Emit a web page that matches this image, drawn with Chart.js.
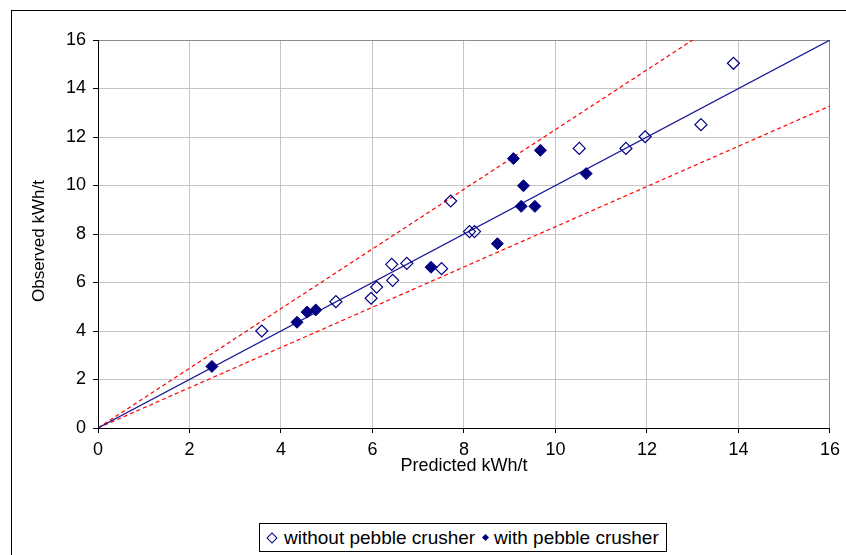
<!DOCTYPE html>
<html>
<head>
<meta charset="utf-8">
<script src="https://cdn.jsdelivr.net/npm/chart.js@4"></script>
<style>
  html, body { margin: 0; padding: 0; background: #fff; }
  #wrap { position: relative; width: 846px; height: 555px; overflow: hidden; }
  #frame { position: absolute; left: 11px; top: 10px; width: 900px; height: 600px; border: 1px solid #000; box-sizing: border-box; }
  canvas { position: absolute; left: 0; top: 0; }
  #legend { position: absolute; left: 259px; top: 523px; width: 408px; height: 29px; border: 1px solid #000; box-sizing: border-box;
    font-family: 'Liberation Sans', Arial, sans-serif; font-size: 19px; color: #000; white-space: nowrap; background: #fff; }
  #legend .t { position: absolute; top: 3px; line-height: 22px; }
  .mk { position: absolute; transform: rotate(45deg); box-sizing: border-box; }
  .mk.open { width: 8px; height: 8px; left: 8px; top: 10px; border: 1.3px solid #000080; }
  .mk.full { width: 5px; height: 5px; left: 223px; top: 11px; background: #000080; }
</style>
</head>
<body>
<div id="wrap">
  <div id="frame"></div>
  <canvas id="chart" width="846" height="555"></canvas>
  <div id="legend"><span class="mk open"></span><span class="t" style="left:24px">without pebble crusher</span><span class="mk full"></span><span class="t" style="left:234px">with pebble crusher</span></div>
</div>
<script>
(function(){
  // without pebble crusher
  const predictedWithout = [3.58, 5.20, 5.97, 6.09, 6.42, 6.44, 6.75, 7.51, 7.71, 8.12, 8.23, 10.52, 11.54, 11.96, 13.18, 13.89];
  const observedWithout  = [4.00, 5.21, 5.35, 5.81, 6.75, 6.09, 6.79, 6.57, 9.36, 8.10, 8.10, 11.53, 11.53, 12.01, 12.51, 15.04];
  // with pebble crusher
  const predictedWith = [2.49, 4.35, 4.57, 4.76, 7.28, 8.73, 9.08, 9.67, 9.30, 9.25, 9.55, 10.67];
  const observedWith  = [2.54, 4.36, 4.78, 4.87, 6.63, 7.60, 11.11, 11.45, 9.99, 9.14, 9.14, 10.49];
  // 1:1 line and the two limit lines
  const parityX = [0, 16];
  const parityY = [0, 16];
  const upperX = [0, 13];
  const upperY = [0, 16];
  const lowerX = [0, 16];
  const lowerY = [0, 13.28];
  const axisTicks = [0, 2, 4, 6, 8, 10, 12, 14, 16];

  const NAVY = '#000080';
  const FONT = "'Liberation Sans', Arial, sans-serif";

  function pts(xs, ys){
    return xs.map((x, i) => ({ x: x, y: ys[i] }));
  }

  Chart.defaults.font.family = FONT;
  Chart.defaults.color = '#000';

  const gridColor = (ctx) => ctx.tick && ctx.tick.value === 16 ? '#8c8c8c' : '#c4c4c4';

  new Chart(document.getElementById('chart'), {
    type: 'scatter',
    data: {
      datasets: [
        { label: 'without pebble crusher', data: pts(predictedWithout, observedWithout),
          pointStyle: 'rectRot', radius: 6, borderColor: NAVY, backgroundColor: 'rgba(255,255,255,0)', borderWidth: 1.2, showLine: false },
        { label: 'with pebble crusher', data: pts(predictedWith, observedWith),
          pointStyle: 'rectRot', radius: 6, borderColor: NAVY, backgroundColor: NAVY, borderWidth: 1, showLine: false },
        { label: 'parity', data: pts(parityX, parityY), showLine: true, pointRadius: 0,
          borderColor: '#1a1a99', borderWidth: 1.2 },
        { label: 'upper', data: pts(upperX, upperY), showLine: true, pointRadius: 0,
          borderColor: '#ff0000', borderWidth: 1.2, borderDash: [4, 3] },
        { label: 'lower', data: pts(lowerX, lowerY), showLine: true, pointRadius: 0,
          borderColor: '#ff0000', borderWidth: 1.2, borderDash: [4, 3] }
      ]
    },
    options: {
      responsive: false,
      devicePixelRatio: 1,
      animation: false,
      layout: { padding: { left: 29, top: 40, right: 16, bottom: 78 } },
      plugins: { legend: { display: false }, tooltip: { enabled: false } },
      scales: {
        x: {
          type: 'linear', min: 0, max: 16,
          afterBuildTicks: (s) => { s.ticks = axisTicks.map(v => ({ value: v })); },
          afterFit: (s) => { s.height = 49; },
          grid: { color: gridColor, tickColor: '#000', tickLength: 5, lineWidth: 1 },
          border: { color: '#000', width: 1 },
          ticks: { font: { size: 18 }, padding: 6, maxRotation: 0 },
          title: { display: true, text: 'Predicted kWh/t', font: { size: 18 }, padding: { top: 4, bottom: 0 } }
        },
        y: {
          type: 'linear', min: 0, max: 16,
          afterBuildTicks: (s) => { s.ticks = axisTicks.map(v => ({ value: v })); },
          afterFit: (s) => { s.width = 69; },
          grid: { color: gridColor, tickColor: '#000', tickLength: 5, lineWidth: 1 },
          border: { color: '#000', width: 1 },
          ticks: { font: { size: 18 }, padding: 7 },
          title: { display: true, text: 'Observed kWh/t   ', font: { size: 17 }, padding: { top: 0, bottom: 0 } }
        }
      }
    }
  });
})();
</script>
</body>
</html>
